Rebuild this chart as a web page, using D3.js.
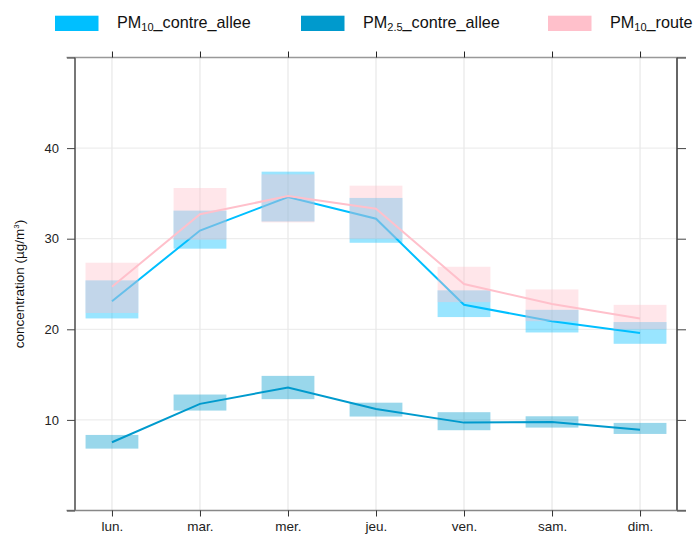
<!DOCTYPE html>
<html><head><meta charset="utf-8">
<script src="https://cdn.jsdelivr.net/npm/d3@7"></script>
<style>body{margin:0;background:#fff}svg{display:block;font-family:"Liberation Sans",Arial,sans-serif}</style>
</head><body><svg id="c" width="694" height="534"></svg>
<script>
const days = ['lun.','mar.','mer.','jeu.','ven.','sam.','dim.'];
const pm10caMean = [23.1, 30.9, 34.6, 32.2, 22.7, 20.9, 19.6];
const pm10caLow  = [21.2, 28.9, 31.9, 29.55, 21.35, 19.65, 18.4];
const pm10caHigh = [25.4, 33.1, 37.4, 34.5, 24.3, 22.15, 20.8];
const pm25Mean = [7.53, 11.77, 13.57, 11.2, 9.7, 9.78, 8.9];
const pm25Low  = [6.83, 11.03, 12.29, 10.37, 8.86, 9.15, 8.45];
const pm25High = [8.34, 12.8, 14.86, 11.9, 10.85, 10.4, 9.67];
const pm10rMean = [24.7, 32.7, 34.7, 33.3, 25.0, 22.8, 21.2];
const pm10rLow  = [21.8, 29.9, 31.8, 30.0, 23.0, 20.9, 20.0];
const pm10rHigh = [27.35, 35.6, 37.1, 35.85, 26.9, 24.4, 22.7];
const yTicks = [0, 10, 20, 30, 40, 50];
const yTickLabels = ['', '10', '20', '30', '40', ''];

const series = [
  {sub:'10', name:'_contre_allee', color:'#00BFFF', mean:pm10caMean, low:pm10caLow, high:pm10caHigh},
  {sub:'2.5', name:'_contre_allee', color:'#009ACD', mean:pm25Mean, low:pm25Low, high:pm25High},
  {sub:'10', name:'_route', color:'#FFC0CB', mean:pm10rMean, low:pm10rLow, high:pm10rHigh}
];

const L = 75, R = 677, T = 57.5, B = 510.5;
const svg = d3.select('#c');
const x = d3.scalePoint().domain(days).range([L, R]).padding(0.42);
const y = d3.scaleLinear().domain([0, 50]).range([B, T]);
const bw = x.step() * 0.6;

// grid
const g = svg.append('g');
g.selectAll('.vg').data(days).join('line')
  .attr('x1', d => x(d)).attr('x2', d => x(d)).attr('y1', T).attr('y2', B)
  .attr('stroke', '#e3e3e3').attr('stroke-width', 1);
g.selectAll('.hg').data(yTicks.slice(1, -1)).join('line')
  .attr('x1', L).attr('x2', R).attr('y1', d => y(d)).attr('y2', d => y(d))
  .attr('stroke', '#e9e9e9').attr('stroke-width', 1);

// series
const line = d3.line().x(d => x(d.day)).y(d => y(d.v));
series.forEach(s => {
  const rows = days.map((d, i) => ({day: d, v: s.mean[i], lo: s.low[i], hi: s.high[i]}));
  const sg = svg.append('g');
  sg.selectAll('rect').data(rows).join('rect')
    .attr('x', d => x(d.day) - bw / 2).attr('width', bw)
    .attr('y', d => y(d.hi)).attr('height', d => y(d.lo) - y(d.hi))
    .attr('fill', s.color).attr('fill-opacity', 0.4);
  sg.append('path').datum(rows).attr('d', line)
    .attr('fill', 'none').attr('stroke', s.color).attr('stroke-width', 2);
});

// frame
const fr = svg.append('g');
fr.append('line').attr('x1', L - 8.5).attr('x2', R + 9).attr('y1', T).attr('y2', T).attr('stroke', '#999').attr('stroke-width', 1.5);
fr.append('line').attr('x1', L - 8.5).attr('x2', R + 9).attr('y1', B).attr('y2', B).attr('stroke', '#888').attr('stroke-width', 1.5);
fr.append('line').attr('x1', L).attr('x2', L).attr('y1', T).attr('y2', B).attr('stroke', '#777').attr('stroke-width', 2);
fr.append('line').attr('x1', R).attr('x2', R).attr('y1', T).attr('y2', B).attr('stroke', '#666').attr('stroke-width', 2);

// y ticks left and right
const yAxL = d3.axisLeft(y).tickValues(yTicks).tickSize(8).tickPadding(8)
  .tickFormat((d, i) => yTickLabels[i]);
const gl = svg.append('g').attr('transform', `translate(${L},0)`).call(yAxL);
gl.select('.domain').remove();
gl.selectAll('line').attr('stroke', '#444');
gl.selectAll('text').attr('font-size', 13).attr('fill', '#222').attr('font-family', '"Liberation Sans",Arial,sans-serif');
const yAxR = d3.axisRight(y).tickValues(yTicks).tickSize(9).tickFormat('');
const gr = svg.append('g').attr('transform', `translate(${R},0)`).call(yAxR);
gr.select('.domain').remove();
gr.selectAll('line').attr('stroke', '#444');

// x ticks bottom and top
const xAxB = d3.axisBottom(x).tickSize(6).tickPadding(5);
const gb = svg.append('g').attr('transform', `translate(0,${B})`).call(xAxB);
gb.select('.domain').remove();
gb.selectAll('line').attr('stroke', '#333');
gb.selectAll('text').attr('font-size', 13.5).attr('fill', '#222').attr('font-family', '"Liberation Sans",Arial,sans-serif');
const xAxT = d3.axisTop(x).tickSize(6).tickFormat('');
const gt = svg.append('g').attr('transform', `translate(0,${T})`).call(xAxT);
gt.select('.domain').remove();
gt.selectAll('line').attr('stroke', '#222');

// y label
svg.append('text').attr('transform', `translate(24,${(T + B) / 2}) rotate(-90)`)
  .attr('text-anchor', 'middle').attr('font-size', 13.5).attr('fill', '#111')
  .html('concentration (µg/m<tspan dy="-5" font-size="8">3</tspan><tspan dy="5">)</tspan>');

// legend
const legX = [55, 301, 548];
series.forEach((s, i) => {
  const lg = svg.append('g').attr('transform', `translate(${legX[i]},0)`);
  lg.append('rect').attr('x', 0).attr('y', 15.7).attr('width', 43.5).attr('height', 15.3).attr('fill', s.color);
  const t = lg.append('text').attr('x', 62).attr('y', 28).attr('font-size', 16.2).attr('fill', '#111');
  t.append('tspan').text('PM');
  t.append('tspan').attr('font-size', 11).attr('dy', 3).text(s.sub);
  t.append('tspan').attr('dy', -3).text(s.name);
});
</script></body></html>
